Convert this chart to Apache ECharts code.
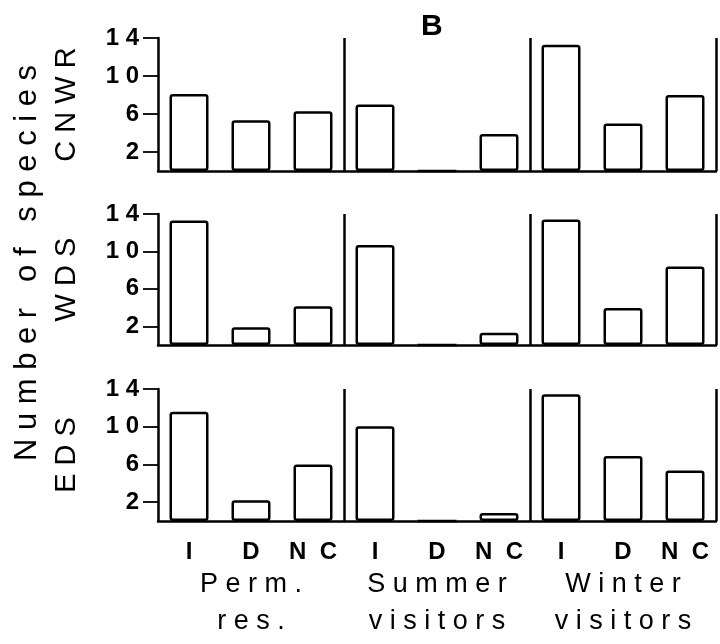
<!DOCTYPE html>
<html>
<head>
<meta charset="utf-8">
<script src="https://cdn.jsdelivr.net/npm/echarts@6/dist/echarts.min.js"></script>
<style>html,body{margin:0;padding:0;background:#fff;}#c{width:720px;height:644px;}</style>
</head>
<body>
<div id="c"></div>
<script>
// ---- data ----
var categories = ['I', 'D', 'NC', 'I', 'D', 'NC', 'I', 'D', 'NC'];
var groupLabels = ['Perm.\nres.', 'Summer\nvisitors', 'Winter\nvisitors'];
var panelNames = ['CNWR', 'WDS', 'EDS'];
var cnwr = [8.1, 5.35, 6.3, 7.0, 0, 3.9, 13.3, 5.0, 8.0];
var wds = [13.3, 1.9, 4.15, 10.7, 0, 1.3, 13.4, 3.95, 8.4];
var eds = [11.6, 2.2, 6.0, 10.05, 0, 0.85, 13.45, 6.9, 5.35];
var yTicks = [2, 6, 10, 14];
var yTitle = 'Number of species';
var panelTitle = 'B';

// ---- helpers ----
function spaced(s, sep) {
  sep = sep || ' ';
  return s.split('\n').map(function (l) { return l.split('').join(sep); }).join('\n');
}
var FONT = "'Liberation Sans', Arial, Helvetica, sans-serif";
var panels = [cnwr, wds, eds];
var gridTops = [38, 214, 389];
var gridHeights = [133, 131, 132];

var grids = [], xAxes = [], yAxes = [], series = [];
panels.forEach(function (vals, i) {
  grids.push({ left: 158, width: 558, top: gridTops[i], height: gridHeights[i] });
  xAxes.push({
    type: 'category', gridIndex: i, data: categories, position: 'bottom',
    axisLine: { lineStyle: { color: '#000', width: 2.5 } },
    axisTick: { show: false },
    axisLabel: {
      show: i === 2, interval: 0, hideOverlap: false,
      color: '#000', fontFamily: FONT, fontSize: 24, fontWeight: 'bold',
      margin: 19, formatter: function (v) { return spaced(v, '  '); }
    },
    splitLine: {
      show: true,
      interval: function (idx) { return idx === 3 || idx === 6; },
      lineStyle: { color: '#000', width: 2.5, type: 'solid' }
    }
  });
  yAxes.push({
    type: 'value', gridIndex: i, min: 0, max: 14,
    name: spaced(panelNames[i]), nameLocation: 'middle', nameRotate: 90, nameGap: 77,
    nameTextStyle: { color: '#000', fontFamily: FONT, fontSize: 29 },
    axisLine: { show: true, lineStyle: { color: '#000', width: 2.5 } },
    axisTick: { show: true, length: 15, customValues: yTicks, lineStyle: { color: '#000', width: 1.8 } },
    axisLabel: {
      color: '#000', fontFamily: FONT, fontSize: 24, fontWeight: 'bold', margin: 19,
      customValues: yTicks, formatter: function (v) { return spaced(String(v)); }
    },
    splitLine: { show: false }
  });
  series.push({
    type: 'bar', xAxisIndex: i, yAxisIndex: i, data: vals, barWidth: 39,
    itemStyle: { color: '#fff', borderColor: '#000', borderWidth: 2.5, borderRadius: 2 },
    silent: true
  });
});
// group labels axis under bottom panel
xAxes.push({
  type: 'category', gridIndex: 2, data: groupLabels, position: 'bottom',
  axisLine: { show: false }, axisTick: { show: false }, splitLine: { show: false },
  axisLabel: {
    interval: 0, hideOverlap: false,
    color: '#000', fontFamily: FONT, fontSize: 27, lineHeight: 37, margin: 45,
    formatter: function (v) { return spaced(v); }
  }
});

var chart = echarts.init(document.getElementById('c'), null, { renderer: 'canvas' });
chart.setOption({
  animation: false,
  backgroundColor: '#fff',
  title: {
    text: panelTitle, left: 421, top: 12, padding: 0,
    textStyle: { color: '#000', fontFamily: FONT, fontSize: 30, fontWeight: 'bold' }
  },
  grid: grids,
  xAxis: xAxes,
  yAxis: yAxes,
  series: series,
  graphic: [{
    type: 'text', x: 27, y: 263, rotation: Math.PI / 2,
    style: {
      text: spaced(yTitle), textAlign: 'center', textVerticalAlign: 'middle',
      font: '31px ' + FONT, fill: '#000'
    }
  }]
});
</script>
</body>
</html>
